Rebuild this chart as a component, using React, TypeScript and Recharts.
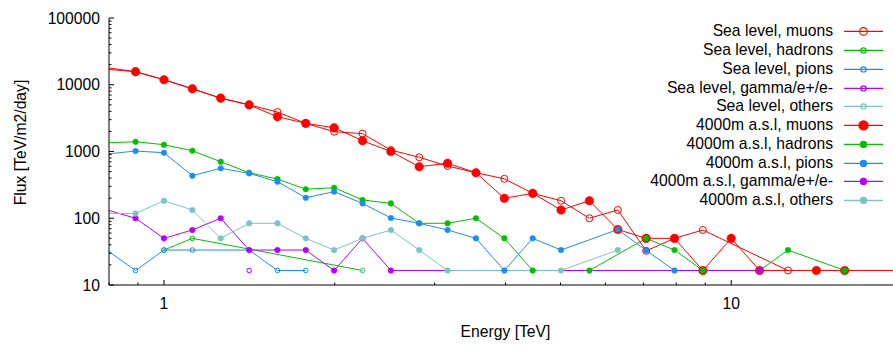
import React from 'react';
import { LineChart, Line, XAxis, YAxis, Legend } from 'recharts';

// bin centres, 0.05 decade apart
const energies = [
  0.794, 0.891, 1.0, 1.122, 1.259, 1.413, 1.585, 1.778, 1.995, 2.239, 2.512, 2.818, 3.162, 3.548, 3.981,
  4.467, 5.012, 5.623, 6.31, 7.079, 7.943, 8.913, 10.0, 11.22, 12.59, 14.13, 15.85, 17.78, 19.95,
];

const seaMuons = [
  18000, 15700, 11900, 8700, 6300, 5000, 3900, 2640, 1980, 1850, 1050, 820, 606, 481, 390,
  236, 183, 100, 133, 32.5, 50, 66.7, null, null, 16.5, null, null, null, null,
];
const seaHadrons = [
  null, null, 33.4, 50, null, null, null, null, null, 16.5, null, null, null, null, null,
  null, null, null, null, null, null, null, null, null, null, null, null, null, null,
];
const seaPions = [
  33, 16.5, 33.4, 33.4, null, 33.4, 16.5, 16.5, null, null, null, null, null, null, null,
  null, null, null, null, null, null, null, null, null, null, null, null, null, null,
];
const seaGamma = [
  null, null, null, null, null, 16.5, null, null, null, null, null, null, null, null, null,
  null, null, null, null, null, null, null, null, null, null, null, null, null, null,
];
const seaOthers = [
  null, null, null, null, null, null, null, null, null, 16.5, null, null, null, null, null,
  null, null, null, null, null, null, null, null, null, null, null, null, null, null,
];
const altMuons = [
  17000, 15700, 11900, 8700, 6300, 5000, 3320, 2640, 2270, 1450, 1000, 592, 666, 481, 199,
  236, 133, 183, 67.8, 50, 50, 16.5, 50, 16.5, null, 16.5, 16.5, null, 16.5,
];
const altHadrons = [
  1350, 1400, 1265, 1028, 703, 481, 387, 272, 287, 188, 167, 84, 84, 100, 50,
  16.5, null, 16.5, null, 50, 33.4, 16.5, null, 16.5, 33.4, null, 16.5, null, null,
];
const altPions = [
  918, 1017, 959, 434, 560, 471, 353, 203, 250, 167, 101, 84, 66.7, 50, 16.5,
  50, 33.4, null, 67.8, 33, 16.5, null, null, null, null, null, null, null, null,
];
const altGamma = [
  133, 100, 50, 66.7, 100, 33.4, 33.4, 33.4, 16.5, 50, 16.5, null, null, null, null,
  null, null, null, null, null, null, null, null, 16.5, null, null, null, null, null,
];
const altOthers = [
  118, 118, 183, 133, 50, 84, 84, 50, 33.4, 50, 66.7, 33.4, 16.5, null, null,
  null, 16.5, null, 33.4, null, null, null, null, null, null, null, null, null, null,
];

const xDomain: [number, number] = [0.8, 20];
const yMajor = [10, 100, 1000, 10000, 100000];
const yTicks = yMajor.flatMap((d, i) =>
  i < yMajor.length - 1 ? [1, 2, 3, 4, 5, 6, 7, 8, 9].map((m) => m * d) : [d]
);
const xMajor = [1, 10];
const xTicks = [0.8, 0.9, 1, 2, 3, 4, 5, 6, 7, 8, 9, 10, 20];

const RED = '#ff0000';
const GREEN = '#00c000';
const BLUE = '#1e8cf0';
const PURPLE = '#b400ff';
const TEAL = '#7cc4c4';

const FONT = '"Liberation Sans", Arial, sans-serif';
const FS = 15.7;

type Series = {
  key: string;
  name: string;
  color: string;
  values: (number | null)[];
  filled: boolean;
  r: number;
};

const series: Series[] = [
  { key: 'seaMuons', name: 'Sea level, muons', color: RED, values: seaMuons, filled: false, r: 3.5 },
  { key: 'seaHadrons', name: 'Sea level, hadrons', color: GREEN, values: seaHadrons, filled: false, r: 2.3 },
  { key: 'seaPions', name: 'Sea level, pions', color: BLUE, values: seaPions, filled: false, r: 2.3 },
  { key: 'seaGamma', name: 'Sea level, gamma/e+/e-', color: PURPLE, values: seaGamma, filled: false, r: 2.3 },
  { key: 'seaOthers', name: 'Sea level, others', color: TEAL, values: seaOthers, filled: false, r: 2.3 },
  { key: 'altMuons', name: '4000m a.s.l, muons', color: RED, values: altMuons, filled: true, r: 4.3 },
  { key: 'altHadrons', name: '4000m a.s.l, hadrons', color: GREEN, values: altHadrons, filled: true, r: 2.8 },
  { key: 'altPions', name: '4000m a.s.l, pions', color: BLUE, values: altPions, filled: true, r: 2.8 },
  { key: 'altGamma', name: '4000m a.s.l, gamma/e+/e-', color: PURPLE, values: altGamma, filled: true, r: 2.8 },
  { key: 'altOthers', name: '4000m a.s.l, others', color: TEAL, values: altOthers, filled: true, r: 2.8 },
];

const data = energies.map((e, i) => {
  const row: Record<string, number | null> = { e };
  series.forEach((s) => {
    row[s.key] = s.values[i];
  });
  return row;
});

// markers only for bins that fall inside the visible energy range
const makeDot = (s: Series) => (props: any) => {
  const { cx, cy, payload, index } = props;
  if (cx == null || cy == null || payload == null || payload.e < xDomain[0] || payload.e > xDomain[1]) {
    return <g key={`${s.key}-${index}`} />;
  }
  return (
    <circle
      key={`${s.key}-${index}`}
      cx={cx}
      cy={cy}
      r={s.r}
      fill={s.filled ? s.color : 'none'}
      stroke={s.color}
      strokeWidth={s.filled ? 0.5 : 1}
    />
  );
};

const BottomTick = (props: any) => {
  const { x, y, payload } = props;
  const major = xMajor.includes(payload.value);
  return (
    <g>
      <line x1={x} x2={x} y1={y} y2={y - (major ? 5 : 2.5)} stroke="#000" />
      {major && (
        <text x={x} y={y + 23.5} textAnchor="middle" fontFamily={FONT} fontSize={FS} fill="#000">
          {payload.value}
        </text>
      )}
    </g>
  );
};

const TopTick = (props: any) => {
  const { x, y, payload } = props;
  const major = xMajor.includes(payload.value);
  return <line x1={x} x2={x} y1={y} y2={y + (major ? 5 : 2.5)} stroke="#000" />;
};

const LeftTick = (props: any) => {
  const { x, y, payload } = props;
  const major = yMajor.includes(payload.value);
  return (
    <g>
      <line x1={x} x2={x + (major ? 5 : 2.5)} y1={y} y2={y} stroke="#000" />
      {major && (
        <text x={x - 9} y={y + 5.5} textAnchor="end" fontFamily={FONT} fontSize={FS} fill="#000">
          {payload.value}
        </text>
      )}
    </g>
  );
};

const YTitle = (props: any) => {
  const vb = props.viewBox;
  const cx = 20;
  const cy = vb.y + vb.height / 2 - 9;
  return (
    <text
      x={cx}
      y={cy}
      transform={`rotate(-90 ${cx} ${cy})`}
      textAnchor="middle"
      dominantBaseline="central"
      fontFamily={FONT}
      fontSize={FS}
      fill="#000"
    >
      Flux [TeV/m2/day]
    </text>
  );
};

const XTitle = (props: any) => {
  const vb = props.viewBox;
  return (
    <text x={vb.x + vb.width / 2} y={vb.y + 51.5} textAnchor="middle" fontFamily={FONT} fontSize={FS} fill="#000">
      Energy [TeV]
    </text>
  );
};

const LegendBox = () => (
  <div style={{ fontFamily: FONT, fontSize: FS, color: '#000' }}>
    {series.map((s) => (
      <div key={s.key} style={{ display: 'flex', alignItems: 'center', height: 18.75 }}>
        <span style={{ width: 333, textAlign: 'right', whiteSpace: 'nowrap', lineHeight: '18.75px' }}>{s.name}</span>
        <svg width={50} height={18.75} style={{ display: 'block' }}>
          <line x1={11} x2={50} y1={9.4} y2={9.4} stroke={s.color} strokeWidth={1.2} />
          <circle
            cx={30.5}
            cy={9.4}
            r={s.r + 0.3}
            fill={s.filled ? s.color : 'none'}
            stroke={s.color}
            strokeWidth={1.2}
          />
        </svg>
      </div>
    ))}
  </div>
);

export default function App() {
  return (
    <div
      style={{
        position: 'fixed',
        left: 0,
        top: 0,
        width: 893,
        height: 345,
        overflow: 'hidden',
        background: '#fff',
      }}
    >
      <LineChart width={910} height={345} data={data} margin={{ top: 18, right: 8, left: 0, bottom: 0 }}>
        <XAxis
          dataKey="e"
          type="number"
          scale="log"
          domain={xDomain}
          allowDataOverflow
          ticks={xTicks}
          interval={0}
          tick={<BottomTick />}
          tickLine={false}
          tickSize={0}
          tickMargin={0}
          height={60}
          stroke="#000"
          label={{ content: <XTitle /> }}
        />
        <XAxis
          xAxisId="top"
          orientation="top"
          dataKey="e"
          type="number"
          scale="log"
          domain={xDomain}
          allowDataOverflow
          ticks={xTicks}
          interval={0}
          tick={<TopTick />}
          tickLine={false}
          tickSize={0}
          tickMargin={0}
          height={0}
          stroke="#000"
        />
        <YAxis
          type="number"
          scale="log"
          domain={[10, 100000]}
          allowDataOverflow
          ticks={yTicks}
          interval={0}
          tick={<LeftTick />}
          tickLine={false}
          tickSize={0}
          tickMargin={0}
          width={109}
          stroke="#000"
          label={{ content: <YTitle /> }}
        />
        <Legend
          layout="vertical"
          align="center"
          verticalAlign="middle"
          content={<LegendBox />}
          wrapperStyle={{ position: 'absolute', top: 22.3, left: 500, width: 390 }}
        />
        {series.map((s) => (
          <Line
            key={s.key}
            dataKey={s.key}
            name={s.name}
            type="linear"
            stroke={s.color}
            strokeWidth={1}
            connectNulls
            dot={makeDot(s)}
            activeDot={false}
            isAnimationActive={false}
          />
        ))}
      </LineChart>
    </div>
  );
}
